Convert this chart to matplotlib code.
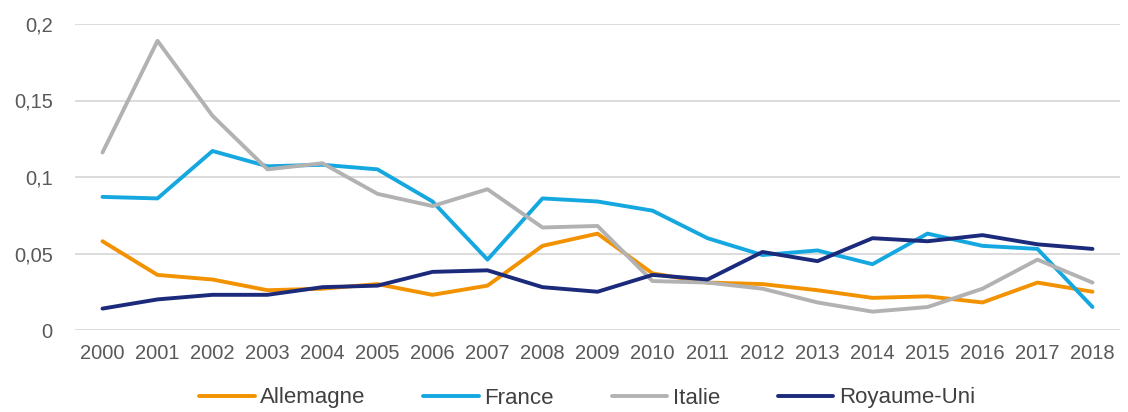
import numpy as np
import matplotlib.pyplot as plt

plt.rcParams['font.family'] = ['Liberation Sans', 'DejaVu Sans']

years = [str(y) for y in range(2000, 2019)]
allemagne = [0.058, 0.036, 0.033, 0.026, 0.027, 0.030, 0.023, 0.029, 0.055, 0.063,
             0.037, 0.031, 0.030, 0.026, 0.021, 0.022, 0.018, 0.031, 0.025]
france = [0.087, 0.086, 0.117, 0.107, 0.108, 0.105, 0.084, 0.046, 0.086, 0.084,
          0.078, 0.060, 0.049, 0.052, 0.043, 0.063, 0.055, 0.053, 0.015]
italie = [0.116, 0.189, 0.140, 0.105, 0.109, 0.089, 0.081, 0.092, 0.067, 0.068,
          0.032, 0.031, 0.027, 0.018, 0.012, 0.015, 0.027, 0.046, 0.031]
royaume_uni = [0.014, 0.020, 0.023, 0.023, 0.028, 0.029, 0.038, 0.039, 0.028, 0.025,
               0.036, 0.033, 0.051, 0.045, 0.060, 0.058, 0.062, 0.056, 0.053]

series = [("Allemagne", allemagne, "#F39200"),
          ("France", france, "#14A7E0"),
          ("Italie", italie, "#B2B2B2"),
          ("Royaume-Uni", royaume_uni, "#1B2A7A")]

fig = plt.figure(figsize=(11.28, 4.12), dpi=100)
ax = fig.add_axes([75/1128, 82/412, 1045/1128, 306/412])

x = np.arange(len(years))
for name, vals, col in series:
    ax.plot(x, vals, color=col, lw=2.8, label=name, solid_capstyle='round')

ax.set_xlim(-0.5, len(years) - 0.5)
ax.set_ylim(0, 0.2)
ax.set_yticks([0, 0.05, 0.1, 0.15, 0.2])
ax.set_yticklabels(["0", "0,05", "0,1", "0,15", "0,2"])
ax.set_xticks(x)
ax.set_xticklabels(years)
ax.grid(axis='y', color='#D9D9D9', lw=1.3)
ax.set_axisbelow(True)
for s in ax.spines.values():
    s.set_visible(False)
ax.tick_params(length=0, labelsize=14.5, colors='#595959')
ax.tick_params(axis='x', pad=10)
ax.tick_params(axis='y', pad=16)

# legend at the very bottom (centre ~ y pixel 398)
ax.legend(loc='center', bbox_to_anchor=(0.49, (330 - 398) / 306), ncol=4, frameon=False,
          fontsize=16, handlelength=2.5, columnspacing=2.6, handletextpad=0.25,
          labelcolor='#404040', borderpad=0)

plt.savefig("out.png", dpi=100)
